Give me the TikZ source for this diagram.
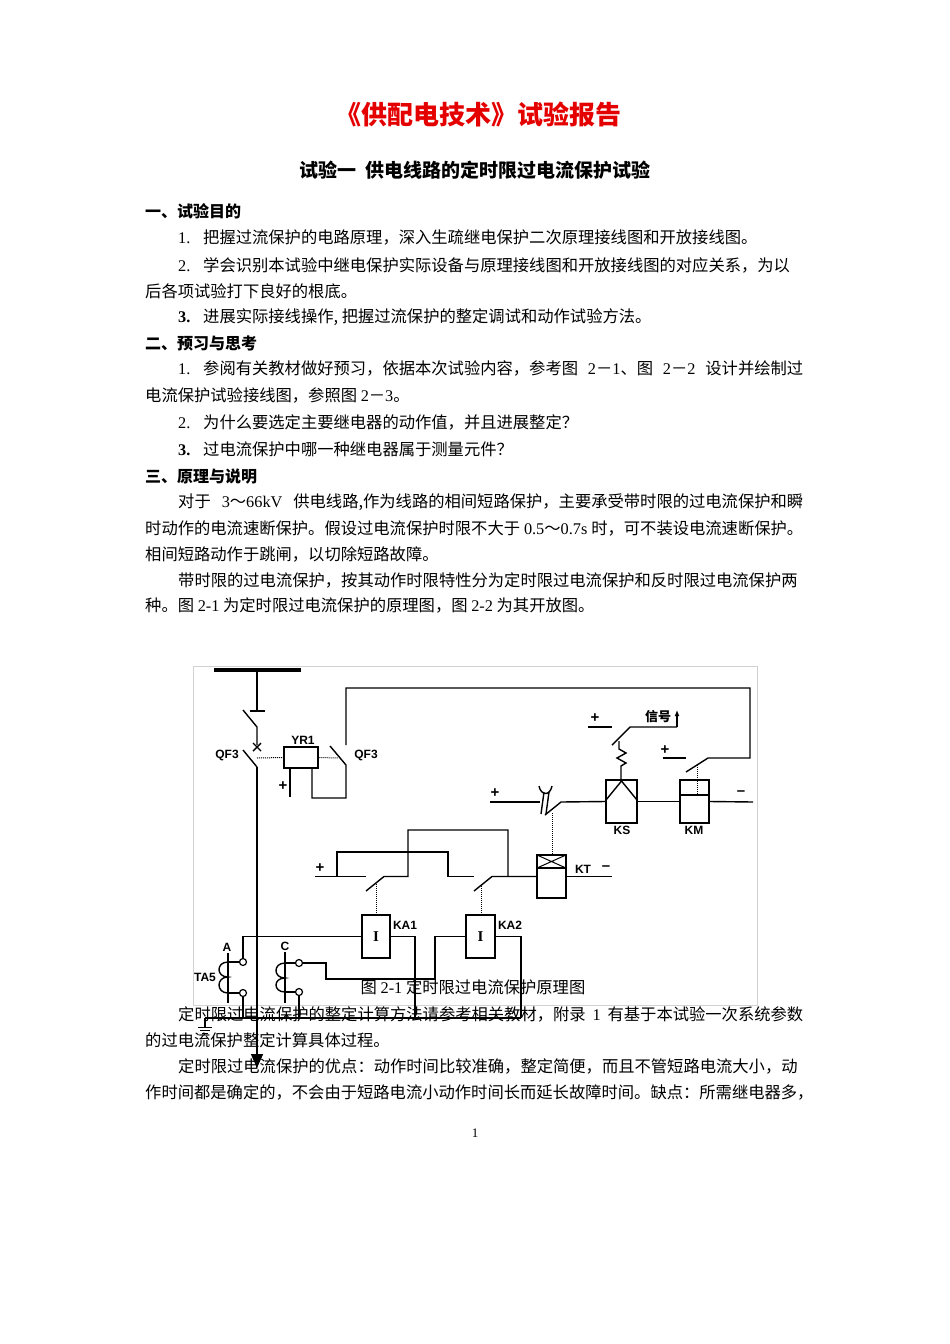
\documentclass[tikz,border=0pt]{standalone}
\usepackage{fontspec}
\setmainfont{Liberation Serif}
\setsansfont{Liberation Sans}
\newfontfamily\cjk{Noto Sans CJK SC}
\usetikzlibrary{arrows.meta}
\XeTeXlinebreaklocale "zh"
\XeTeXlinebreakskip=0pt plus 3pt
\newcommand\lt[1]{{\rmfamily #1}}
\newcommand\fl[2]{\hbox to #1pt{#2}}

\tikzset{
  txt/.style={anchor=base west, inner sep=0, font=\cjk\fontsize{16.3}{20}\selectfont},
  hd/.style={anchor=base west, inner sep=0, font=\cjk\bfseries\fontsize{16}{20}\selectfont},
  wire/.style={line width=1.4pt},
  dot/.style={densely dotted, line width=1pt},
  relbox/.style={draw, line width=1.4pt, minimum width=29pt, minimum height=43pt, inner sep=0},
  lab/.style={font=\sffamily\bfseries\fontsize{12}{12}\selectfont, inner sep=0},
  sgn/.style={font=\sffamily\bfseries\fontsize{15}{15}\selectfont, inner sep=0},
  term/.style={circle, draw, line width=1.2pt, minimum size=7pt, inner sep=0}
}

\begin{document}
\begin{tikzpicture}[x=1pt, y=-1pt]
\useasboundingbox (0,0) rectangle (950,1344);
\fill[white] (0,0) rectangle (950,1344);

% title
\node[text=red!90!black, font=\cjk\bfseries\fontsize{26}{30}\selectfont] (title) at (478,115) {《供配电技术》试验报告};
\node[font=\cjk\bfseries\fontsize{19}{22}\selectfont] (subtitle) at (475,170) {试验一\ \ 供电线路的定时限过电流保护试验};

% figure frame
\draw[gray!35, line width=0.6pt] (193,666) rectangle (757,1005);

% primary circuit
\draw[line width=4pt] (214,670) -- (301,670);
\draw[wire] (257,670) -- (257,711);
\draw[wire] (250,711) -- (265,711);
\draw[wire] (243,710) -- (257,727) -- (257,745);
\draw[wire] (253,743) -- (261,751) (253,751) -- (261,743);
\draw[wire] (243,750) -- (257,767);
\draw[wire, -{Triangle[width=12pt, length=14pt]}] (257,767) -- (257,1068);
\node[lab] (qf3l) at (227,755) {QF3};

% trip coil
\node[relbox, minimum width=34pt, minimum height=21pt] (yr) at (301,757.5) {};
\node[lab] (yrl) at (303,740) {YR1};
\draw[dot] (257,758) -- (yr.west);
\draw[dot] (yr.east) -- (338,758);
\draw[wire] (290,768) -- (290,797);
\node[sgn] (yrp) at (283,786) {+};
\draw[wire] (312,768) -- (312,798) -- (346,798) -- (346,765) -- (330,746);
\node[lab] (qf3r) at (366,755) {QF3};
\draw[wire] (346,745) -- (346,688) -- (750,688) -- (750,758) -- (708,758) -- (686,772);

% KM
\draw[wire] (663,758) -- (686,758);
\node[sgn] (kmp) at (665,750) {+};
\draw[dot] (697,765) -- (697,795);
\node[relbox] (km) at (694.5,801.5) {};
\draw[wire] (680,795) -- (709,795);
\node[lab] (kml) at (694,830) {KM};

% KS
\node[relbox, minimum width=31pt] (ks) at (621.5,801.5) {};
\draw[wire] (606,800) -- (621.5,781) -- (637,800);
\node[lab] (ksl) at (622,830) {KS};
\draw[wire] (621,780) -- (621,766) -- (626,763) -- (617,758) -- (626,753) -- (619,749) -- (619,741);
\draw[wire] (588,727) -- (612,727);
\draw[wire] (612,745) -- (630,727) -- (677,727);
\draw[line width=1.2pt, -{Latex[length=6pt, width=5pt]}] (677,727) -- (677,710);
\node[sgn] (ksp) at (595,718) {+};
\node[font=\cjk\bfseries\fontsize{13}{13}\selectfont, inner sep=0] (sig) at (658,717) {信号};

% main dc line
\draw[wire] (490,802) -- (540,802);
\node[sgn] (mp) at (495,793) {+};
\draw[wire] (539,786) .. controls (541,796) and (550,796) .. (552,786);
\draw[wire] (544,792) -- (541,814) (549,792) -- (546,814);
\draw[wire] (545,815) -- (561,802) -- (ks.west);
\draw[wire] (ks.east) -- (km.west);
\draw[wire] (km.east) -- (753,802);
\node[sgn] (mm) at (741,793) {–};
\draw[dot] (552,813) -- (552,855);

% KT
\node[relbox] (kt) at (551.5,876.5) {};
\draw[wire] (537,868) -- (566,868);
\draw[line width=1pt] (537,855) -- (566,868) (537,868) -- (566,855);
\node[lab] (ktl) at (583,869) {KT};
\node[sgn] (ktm) at (606,868) {–};
\draw[wire] (kt.east) -- (612,876.5);

% KA contacts
\draw[wire] (315,876.5) -- (366,876.5);
\node[sgn] (kap) at (320,868) {+};
\draw[wire] (366,891) -- (384,876.5) -- (408,876.5) -- (408,830) -- (508,830) -- (508,876.5);
\draw[wire] (337,876.5) -- (337,852) -- (448,852) -- (448,876.5) -- (474,876.5);
\draw[wire] (474,891) -- (492,876.5) -- (kt.west);
\draw[dot] (376,884) -- (376,915);
\draw[dot] (481,884) -- (481,915);

% current relays
\node[relbox, minimum width=28pt, font=\rmfamily\bfseries\fontsize{15}{15}\selectfont] (ka1) at (376,936.5) {I};
\node[relbox, font=\rmfamily\bfseries\fontsize{15}{15}\selectfont] (ka2) at (480.5,936.5) {I};
\node[lab] (ka1l) at (405,925) {KA1};
\node[lab] (ka2l) at (510,925) {KA2};

% current transformers
\node[term] (tat) at (243,962) {};
\node[term] (tab) at (243,993) {};
\node[term] (tct) at (299,963) {};
\node[term] (tcb) at (299,992) {};
\draw[wire] (228,953) -- (228,1003);
\draw[wire] (228,962) .. controls (216,962) and (216,977) .. (228,977) .. controls (216,977) and (216,993) .. (228,993);
\draw[wire] (228,962) -- (tat.west) (228,993) -- (tab.west);
\draw[wire] (285,952) -- (285,1003);
\draw[wire] (285,963) .. controls (273,963) and (273,978) .. (285,978) .. controls (273,978) and (273,992) .. (285,992);
\draw[wire] (285,963) -- (tct.west) (285,992) -- (tcb.west);
\node[lab] (al) at (227,947) {A};
\node[lab] (cl) at (285,946) {C};
\node[lab] (tal) at (205,977) {TA5};

\draw[wire] (ka1.west) -- (243,936.5) -- (tat.north);
\draw[wire] (ka1.east) -- (415,936.5) -- (415,1018);
\draw[wire] (ka2.west) -- (435,936.5) -- (435,979) -- (326,979) -- (326,963) -- (tct.east);
\draw[wire] (ka2.east) -- (521,936.5) -- (521,1018);
\draw[wire] (205,1018) -- (521,1018);
\draw[wire] (tab.south) -- (243,1018);
\draw[wire] (tcb.south) -- (299,1018);
\draw[wire] (205,1018) -- (205,1027);
\draw[line width=1pt] (198,1027) -- (212,1027) (200,1030) -- (210,1030) (202,1033) -- (208,1033);

% body text
\node[hd] (h1) at (145,217) {一、试验目的};
\node[txt] (n1) at (178,243) {\lt{1.}};
\node[txt] (t1) at (203,243) {把握过流保护的电路原理，深入生疏继电保护二次原理接线图和开放接线图。};
\node[txt] (n2) at (178,271) {\lt{2.}};
\node[txt] (t2) at (203,271) {\fl{600}{学会识别本试验中继电保护实际设备与原理接线图和开放接线图的对应关系，为以}};
\node[txt] (t2b) at (145,297) {后各项试验打下良好的根底。};
\node[txt] (n3) at (178,322) {\lt{\bfseries 3.}};
\node[txt] (t3) at (203,322) {进展实际接线操作, 把握过流保护的整定调试和动作试验方法。};
\node[hd] (h2) at (145,349) {二、预习与思考};
\node[txt] (n4) at (178,374) {\lt{1.}};
\node[txt] (t4) at (203,374) {\fl{600}{参阅有关教材做好预习，依据本次试验内容，参考图 \lt{2}－\lt{1}、图 \lt{2}－\lt{2} 设计并绘制过}};
\node[txt] (t4b) at (145,401) {电流保护试验接线图，参照图 \lt{2}－\lt{3}。};
\node[txt] (n5) at (178,428) {\lt{2.}};
\node[txt] (t5) at (203,428) {为什么要选定主要继电器的动作值，并且进展整定？};
\node[txt] (n6) at (178,455) {\lt{\bfseries 3.}};
\node[txt] (t6) at (203,455) {过电流保护中哪一种继电器属于测量元件？};
\node[hd] (h3) at (145,482) {三、原理与说明};
\node[txt] (p1) at (178,507) {\fl{625}{对于 \lt{3}～\lt{66kV} 供电线路,作为线路的相间短路保护，主要承受带时限的过电流保护和瞬}};
\node[txt] (p1b) at (145,534) {\fl{658}{时动作的电流速断保护。假设过电流保护时限不大于 \lt{0.5}～\lt{0.7s} 时，可不装设电流速断保护。}};
\node[txt] (p1c) at (145,560) {相间短路动作于跳闸，以切除短路故障。};
\node[txt] (p2) at (178,586) {带时限的过电流保护，按其动作时限特性分为定时限过电流保护和反时限过电流保护两};
\node[txt] (p2b) at (145,611) {种。图 \lt{2-1} 为定时限过电流保护的原理图，图 \lt{2-2} 为其开放图。};
\node[txt, anchor=base] (cap) at (473,993) {图 \lt{2-1} 定时限过电流保护原理图};
\node[txt] (p3) at (178,1020) {\fl{625}{定时限过电流保护的整定计算方法请参考相关教材，附录 \lt{1} 有基于本试验一次系统参数}};
\node[txt] (p3b) at (145,1046) {的过电流保护整定计算具体过程。};
\node[txt] (p4) at (178,1072) {\fl{625}{定时限过电流保护的优点：动作时间比较准确，整定简便，而且不管短路电流大小，动}};
\node[txt] (p4b) at (145,1098) {\fl{658}{作时间都是确定的，不会由于短路电流小动作时间长而延长故障时间。缺点：所需继电器多，}};
\node[font=\rmfamily\fontsize{13}{13}\selectfont] (pg) at (475,1133) {1};
\end{tikzpicture}
\end{document}
